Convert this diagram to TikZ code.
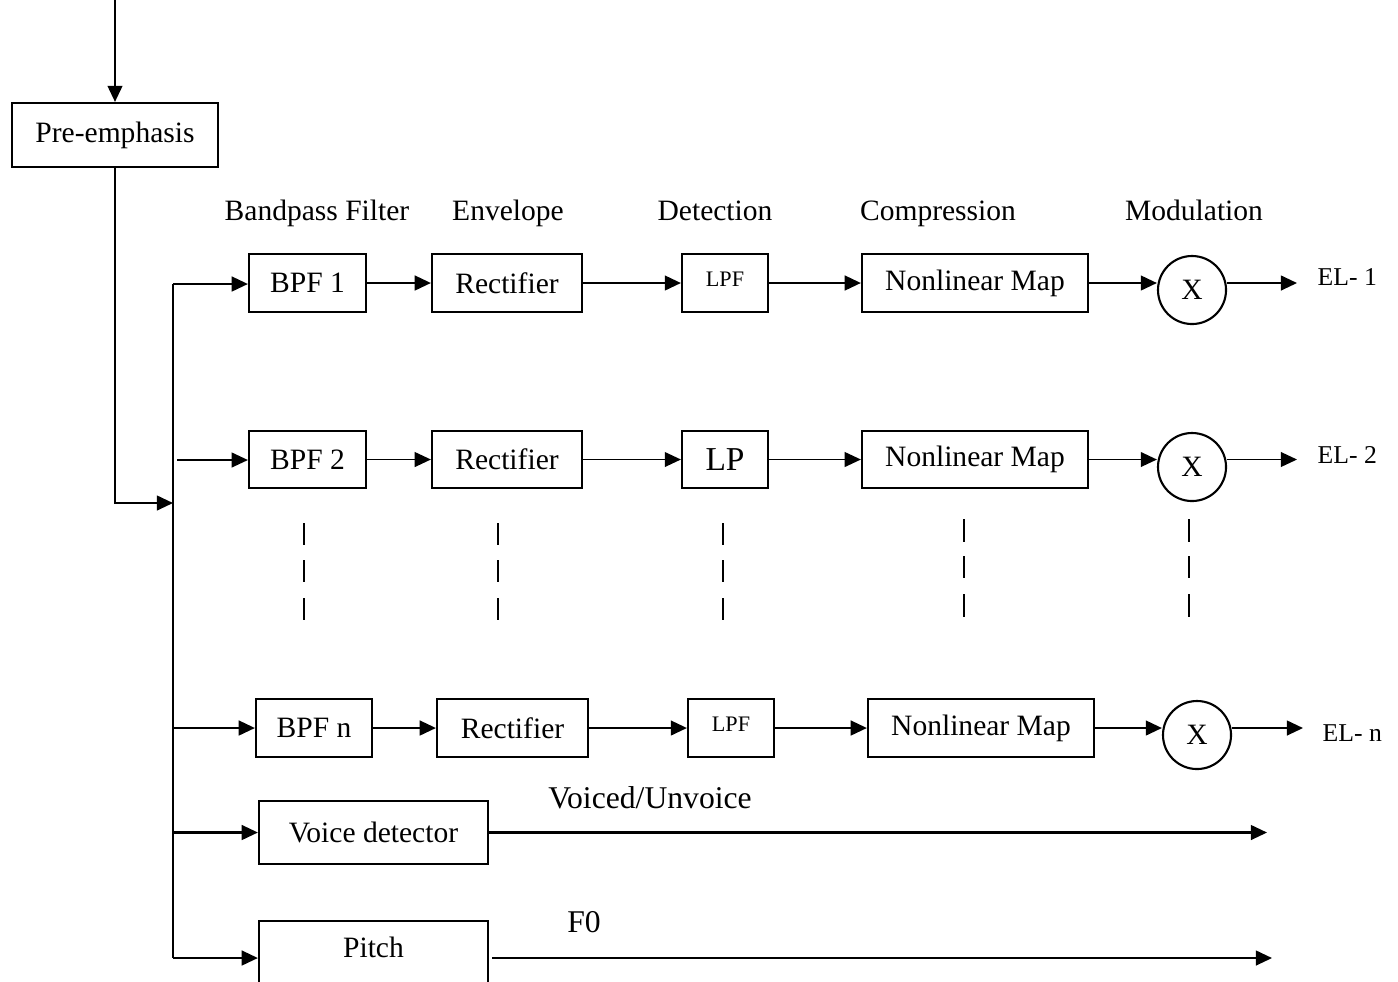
\documentclass[tikz,border=0pt]{standalone}
\usepackage{fontspec}
\setmainfont{Liberation Serif}
\usetikzlibrary{arrows.meta}
\begin{document}
\begin{tikzpicture}[x=0.01cm,y=-0.01cm,
  blk/.style={draw,line width=0.6pt,inner sep=0pt,font=\fontsize{8.4}{10}\selectfont},
  small/.style={font=\fontsize{6.3}{8}\selectfont,text depth=2.3pt},
  mult/.style={draw,circle,line width=0.6pt,inner sep=0pt,minimum size=0.68cm,font=\fontsize{8.4}{10}\selectfont},
  link/.style={line width=0.6pt,-{Triangle[length=4.6pt,width=4.2pt]}},
  thinlink/.style={link,line width=0.45pt},
  wire/.style={line width=0.6pt},
  head/.style={anchor=base,inner sep=0pt,font=\fontsize{8.4}{10}\selectfont},
  outlbl/.style={anchor=base west,inner sep=0pt,font=\fontsize{7.3}{9}\selectfont},
  sig/.style={anchor=base,inner sep=0pt,font=\fontsize{9}{11}\selectfont},
  tick/.style={line width=0.45pt}]

\clip (0,0) rectangle (1398,981);
\useasboundingbox (0,0) rectangle (1398,981);

% input and pre-emphasis
\coordinate (in) at (115,0);
\node[blk,minimum width=2.06cm,minimum height=0.64cm] (pre) at (115,135) {Pre-emphasis};
\draw[link] (in) -- (pre.north);
\coordinate (turn) at (115,503);
\coordinate (join) at (173,503);
\draw[link] (pre.south) -- (turn) -- (join);

% distribution bus
\coordinate (bt) at (173,284);
\coordinate (bb) at (173,958);
\draw[wire] (bt) -- (bb);

% column headings
\node[head] (hbpf) at (317,220) {Bandpass Filter};
\node[head] (henv) at (508,220) {Envelope};
\node[head] (hdet) at (715,220) {Detection};
\node[head] (hcmp) at (938,220) {Compression};
\node[head] (hmod) at (1194,220) {Modulation};

% channel 1
\node[blk,minimum width=1.17cm,minimum height=0.58cm] (bpfa) at (307.5,283) {BPF 1};
\node[blk,minimum width=1.50cm,minimum height=0.58cm] (reca) at (507,283) {Rectifier};
\node[blk,small,minimum width=0.86cm,minimum height=0.58cm] (lpfa) at (725,283) {LPF};
\node[blk,minimum width=2.26cm,minimum height=0.58cm] (nla) at (975,283) {Nonlinear Map};
\node[mult] (xa) at (1192,290) {X};
\coordinate (ela) at (1297,283);
\node[outlbl] (ella) at (1317,285) {EL- 1};
\draw[link] (bt) -- (bt -| bpfa.west);
\draw[link] (bpfa) -- (reca);
\draw[link] (reca) -- (lpfa);
\draw[link] (lpfa) -- (nla);
\draw[link] (nla.east) -- (nla.east -| xa.west);
\draw[link] (xa.east |- nla.east) -- (ela);

% channel 2
\coordinate (sb) at (177,460);
\node[blk,minimum width=1.17cm,minimum height=0.57cm] (bpfb) at (307.5,459.5) {BPF 2};
\node[blk,minimum width=1.50cm,minimum height=0.57cm] (recb) at (507,459.5) {Rectifier};
\node[blk,minimum width=0.86cm,minimum height=0.57cm,font=\fontsize{9.5}{11}\selectfont] (lpb) at (725,459.5) {LP};
\node[blk,minimum width=2.26cm,minimum height=0.57cm] (nlb) at (975,459.5) {Nonlinear Map};
\node[mult] (xb) at (1192,467) {X};
\coordinate (elb) at (1297,459.5);
\node[outlbl] (ellb) at (1317,463) {EL- 2};
\draw[thinlink] (sb) -- (sb -| bpfb.west);
\draw[thinlink] (bpfb) -- (recb);
\draw[thinlink] (recb) -- (lpb);
\draw[thinlink] (lpb) -- (nlb);
\draw[thinlink] (nlb.east) -- (nlb.east -| xb.west);
\draw[thinlink] (xb.east |- nlb.east) -- (elb);

% continuation marks between channel 2 and channel n
\foreach \x in {304,498,723}
  \foreach \ya/\yb in {523/545,560/582,598/620}
    \draw[tick] (\x,\ya) -- (\x,\yb);
\foreach \x in {964,1189}
  \foreach \ya/\yb in {519/542,556/578,594/617}
    \draw[tick] (\x,\ya) -- (\x,\yb);

% channel n
\node[blk,minimum width=1.16cm,minimum height=0.58cm] (bpfn) at (314,728) {BPF n};
\node[blk,minimum width=1.51cm,minimum height=0.58cm] (recn) at (512.5,728) {Rectifier};
\node[blk,small,minimum width=0.86cm,minimum height=0.58cm] (lpfn) at (731,728) {LPF};
\node[blk,minimum width=2.26cm,minimum height=0.58cm] (nln) at (981,728) {Nonlinear Map};
\node[mult] (xn) at (1197,735) {X};
\coordinate (eln) at (1303,728);
\node[outlbl] (elln) at (1322,741) {EL- n};
\draw[link] (bt |- bpfn.west) -- (bpfn.west);
\draw[link] (bpfn) -- (recn);
\draw[link] (recn) -- (lpfn);
\draw[link] (lpfn) -- (nln);
\draw[link] (nln.east) -- (nln.east -| xn.west);
\draw[link] (xn.east |- nln.east) -- (eln);

% voicing decision
\node[blk,minimum width=2.29cm,minimum height=0.63cm] (vd) at (373.5,832.5) {Voice detector};
\coordinate (vu) at (1267,832.5);
\draw[link] (bt |- vd.west) -- (vd.west);
\draw[link] (vd.east) -- (vu);
\node[sig] (vul) at (650,808) {Voiced/Unvoice};

% pitch estimation
\node[blk,minimum width=2.29cm,minimum height=0.80cm] (pt) at (373.5,961) {};
\node[anchor=base,inner sep=0pt,font=\fontsize{8.4}{10}\selectfont] (ptl) at (373.5,957) {Pitch};
\draw[link] (bb) -- (bb -| pt.west);
\coordinate (f0a) at (492,958);
\coordinate (f0b) at (1272,958);
\draw[link] (f0a) -- (f0b);
\node[sig] (f0) at (584,932) {F0};
\end{tikzpicture}
\end{document}
